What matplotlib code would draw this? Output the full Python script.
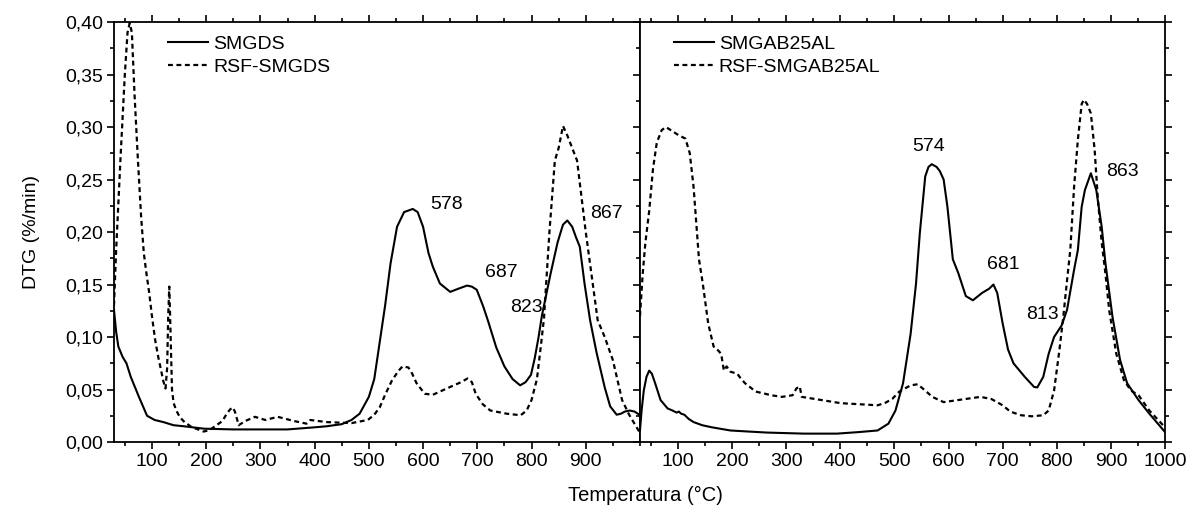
import matplotlib
matplotlib.use('Agg')
import matplotlib.pyplot as plt
from matplotlib.ticker import FuncFormatter, MultipleLocator

plt.rcParams['font.family'] = ['Liberation Sans', 'DejaVu Sans']
plt.rcParams['font.size'] = 14

# SMGDS / RSF-SMGDS (left)
t_smgds = [30, 34, 38, 46, 53, 61, 76, 91, 105, 121, 140, 159, 196, 250, 300, 350, 400, 422, 450,
           468, 483, 500, 510, 520, 530, 540, 552, 565, 581, 590, 600, 610, 618, 631, 650, 665,
           681, 690, 699, 711, 720, 735, 750, 765, 779, 789, 799, 806, 813, 819, 825, 835, 848,
           858, 866, 875, 882, 889, 898, 908, 920, 935, 945, 957, 965, 972, 981, 990, 999]
dtg_smgds = [0.126, 0.105, 0.091, 0.081, 0.075, 0.062, 0.043, 0.025, 0.021, 0.019, 0.016, 0.015,
             0.0127, 0.012, 0.012, 0.012, 0.014, 0.015, 0.017, 0.021, 0.027, 0.043, 0.060, 0.095,
             0.130, 0.170, 0.205, 0.219, 0.222, 0.219, 0.205, 0.180, 0.167, 0.151, 0.143, 0.146,
             0.149, 0.148, 0.145, 0.129, 0.115, 0.090, 0.072, 0.060, 0.054, 0.057, 0.064, 0.080,
             0.100, 0.120, 0.135, 0.160, 0.190, 0.207, 0.211, 0.205, 0.195, 0.186, 0.150, 0.116,
             0.085, 0.052, 0.034, 0.026, 0.027, 0.029, 0.030, 0.029, 0.026]

t_rsf_smgds = [30, 34, 42, 50, 55, 59, 63, 68, 74, 80, 85, 90, 95, 100, 106, 112, 117, 121, 125,
               128, 130, 132, 134, 137, 140, 145, 151, 160, 174, 185, 195, 205, 219, 230, 238,
               244, 249, 253, 260, 272, 290, 309, 332, 362, 385, 392, 422, 468, 498, 510, 520,
               530, 543, 555, 562, 573, 580, 588, 603, 618, 648, 670, 682, 690, 697, 710, 724,
               754, 780, 791, 800, 810, 818, 823, 833, 843, 850, 858, 866, 875, 884, 900, 922,
               935, 950, 967, 980, 999]
dtg_rsf_smgds = [0.130, 0.183, 0.270, 0.350, 0.390, 0.399, 0.390, 0.330, 0.270, 0.215, 0.180,
                 0.160, 0.142, 0.120, 0.097, 0.080, 0.068, 0.058, 0.051, 0.070, 0.120, 0.148,
                 0.110, 0.050, 0.037, 0.030, 0.024, 0.019, 0.014, 0.012, 0.010, 0.011, 0.016,
                 0.020, 0.027, 0.031, 0.033, 0.029, 0.016, 0.020, 0.024, 0.021, 0.024, 0.020,
                 0.0175, 0.021, 0.019, 0.018, 0.021, 0.026, 0.033, 0.045, 0.059, 0.068, 0.072,
                 0.071, 0.065, 0.056, 0.046, 0.045, 0.052, 0.057, 0.0605, 0.057, 0.046, 0.036,
                 0.030, 0.027, 0.0255, 0.030, 0.040, 0.060, 0.095, 0.118, 0.200, 0.268, 0.280,
                 0.301, 0.292, 0.280, 0.268, 0.200, 0.116, 0.100, 0.078, 0.040, 0.026, 0.0095]

# SMGAB25AL / RSF-SMGAB25AL (right)
t_smgab = [30, 33, 37, 42, 47, 52, 58, 68, 81, 90, 98, 102, 106, 112, 120, 129, 145, 163, 197,
           230, 265, 333, 394, 435, 469, 489, 502, 516, 530, 540, 547, 557, 563, 569, 578, 584,
           591, 598, 608, 618, 632, 645, 662, 675, 683, 690, 700, 710, 720, 741, 758, 764, 775,
           785, 795, 809, 819, 832, 839, 846, 852, 863, 873, 883, 890, 903, 917, 930, 951, 971,
           1000]
dtg_smgab = [0.011, 0.030, 0.049, 0.062, 0.068, 0.065, 0.056, 0.040, 0.032, 0.030, 0.028, 0.029,
             0.027, 0.026, 0.022, 0.019, 0.016, 0.014, 0.011, 0.010, 0.009, 0.008, 0.008, 0.0095,
             0.011, 0.0175, 0.030, 0.056, 0.103, 0.151, 0.199, 0.253, 0.262, 0.2646, 0.262,
             0.258, 0.250, 0.224, 0.174, 0.161, 0.139, 0.135, 0.142, 0.146, 0.150, 0.142, 0.113,
             0.088, 0.075, 0.062, 0.0525, 0.052, 0.062, 0.084, 0.100, 0.111, 0.126, 0.164, 0.183,
             0.224, 0.240, 0.256, 0.240, 0.205, 0.170, 0.119, 0.078, 0.056, 0.040, 0.027, 0.0095]

t_rsf_smgab = [30, 35, 40, 47, 54, 61, 70, 78, 90, 102, 114, 122, 129, 139, 146, 156, 166, 173,
               180, 185, 190, 197, 210, 214, 224, 244, 261, 272, 292, 312, 319, 325, 329, 353,
               401, 435, 469, 482, 496, 509, 530, 543, 557, 570, 591, 618, 659, 679, 700, 714,
               734, 754, 775, 785, 795, 805, 812, 819, 825, 832, 839, 846, 850, 856, 863, 870,
               876, 883, 890, 897, 910, 924, 937, 951, 971, 1000]
dtg_rsf_smgab = [0.120, 0.160, 0.190, 0.220, 0.260, 0.285, 0.297, 0.300, 0.296, 0.292, 0.289,
                 0.275, 0.243, 0.174, 0.151, 0.113, 0.091, 0.088, 0.084, 0.068, 0.072, 0.067,
                 0.065, 0.062, 0.056, 0.048, 0.046, 0.0446, 0.043, 0.0446, 0.051, 0.053, 0.043,
                 0.041, 0.037, 0.036, 0.035, 0.037, 0.041, 0.048, 0.054, 0.055, 0.049, 0.043,
                 0.038, 0.040, 0.043, 0.041, 0.035, 0.029, 0.0255, 0.0245, 0.0255, 0.030, 0.049,
                 0.088, 0.119, 0.154, 0.183, 0.243, 0.288, 0.322, 0.326, 0.322, 0.313, 0.278,
                 0.231, 0.190, 0.160, 0.125, 0.084, 0.059, 0.049, 0.0446, 0.030, 0.014]

# peak labels: (text, x, y)
peaks_left = [('578', 644, 0.226), ('687', 745, 0.161), ('823', 791, 0.128), ('867', 939, 0.218)]
peaks_right = [('574', 564, 0.281), ('681', 702, 0.169), ('813', 773, 0.121), ('863', 921, 0.258)]

dash = (0, (2.2, 1.6))

fig = plt.figure(figsize=(11.96, 5.15), dpi=100)
ax1 = fig.add_axes([0.0953, 0.1417, 0.4398, 0.8155])
ax2 = fig.add_axes([0.5351, 0.1417, 0.4390, 0.8155])

ax1.plot(t_smgds, dtg_smgds, color='black', lw=1.5, label='SMGDS')
ax1.plot(t_rsf_smgds, dtg_rsf_smgds, color='black', lw=1.6, ls=dash, label='RSF-SMGDS')
ax2.plot(t_smgab, dtg_smgab, color='black', lw=1.5, label='SMGAB25AL')
ax2.plot(t_rsf_smgab, dtg_rsf_smgab, color='black', lw=1.6, ls=dash, label='RSF-SMGAB25AL')

for txt, x, y in peaks_left:
    ax1.text(x, y, txt, ha='center', va='center', fontsize=14)
for txt, x, y in peaks_right:
    ax2.text(x, y, txt, ha='center', va='center', fontsize=14)

comma = FuncFormatter(lambda v, p: f'{v:.2f}'.replace('.', ','))

for ax in (ax1, ax2):
    ax.set_xlim(30, 1000)
    ax.set_ylim(0, 0.40)
    ax.yaxis.set_major_locator(MultipleLocator(0.05))
    ax.yaxis.set_minor_locator(MultipleLocator(0.025))
    ax.xaxis.set_minor_locator(MultipleLocator(50))
    ax.tick_params(which='both', direction='out', top=True, width=1.2, labelsize=14, pad=3)
    ax.tick_params(which='major', length=5)
    ax.tick_params(which='minor', length=3)
    for s in ax.spines.values():
        s.set_linewidth(1.3)
    ax.legend(loc='upper left', frameon=False, fontsize=14, handlelength=2.05,
              handletextpad=0.25, labelspacing=0.25, borderpad=0, borderaxespad=0)

ax1.set_xticks(range(100, 1000, 100))
ax1.yaxis.set_major_formatter(comma)
ax1.tick_params(which='both', right=False)
ax1.get_legend().set_bbox_to_anchor((0.103, 0.968))

ax2.set_xticks(range(100, 1001, 100))
ax2.tick_params(which='both', right=True, left=True, labelleft=False)
ax2.get_legend().set_bbox_to_anchor((0.065, 0.968))

fig.text(31 / 1196, 0.549, 'DTG (%/min)', rotation=90, ha='center', va='center', fontsize=14)
fig.text(645 / 1196, 0.037, 'Temperatura (°C)', ha='center', va='center', fontsize=14.5)

fig.savefig('out.png', dpi=100)
